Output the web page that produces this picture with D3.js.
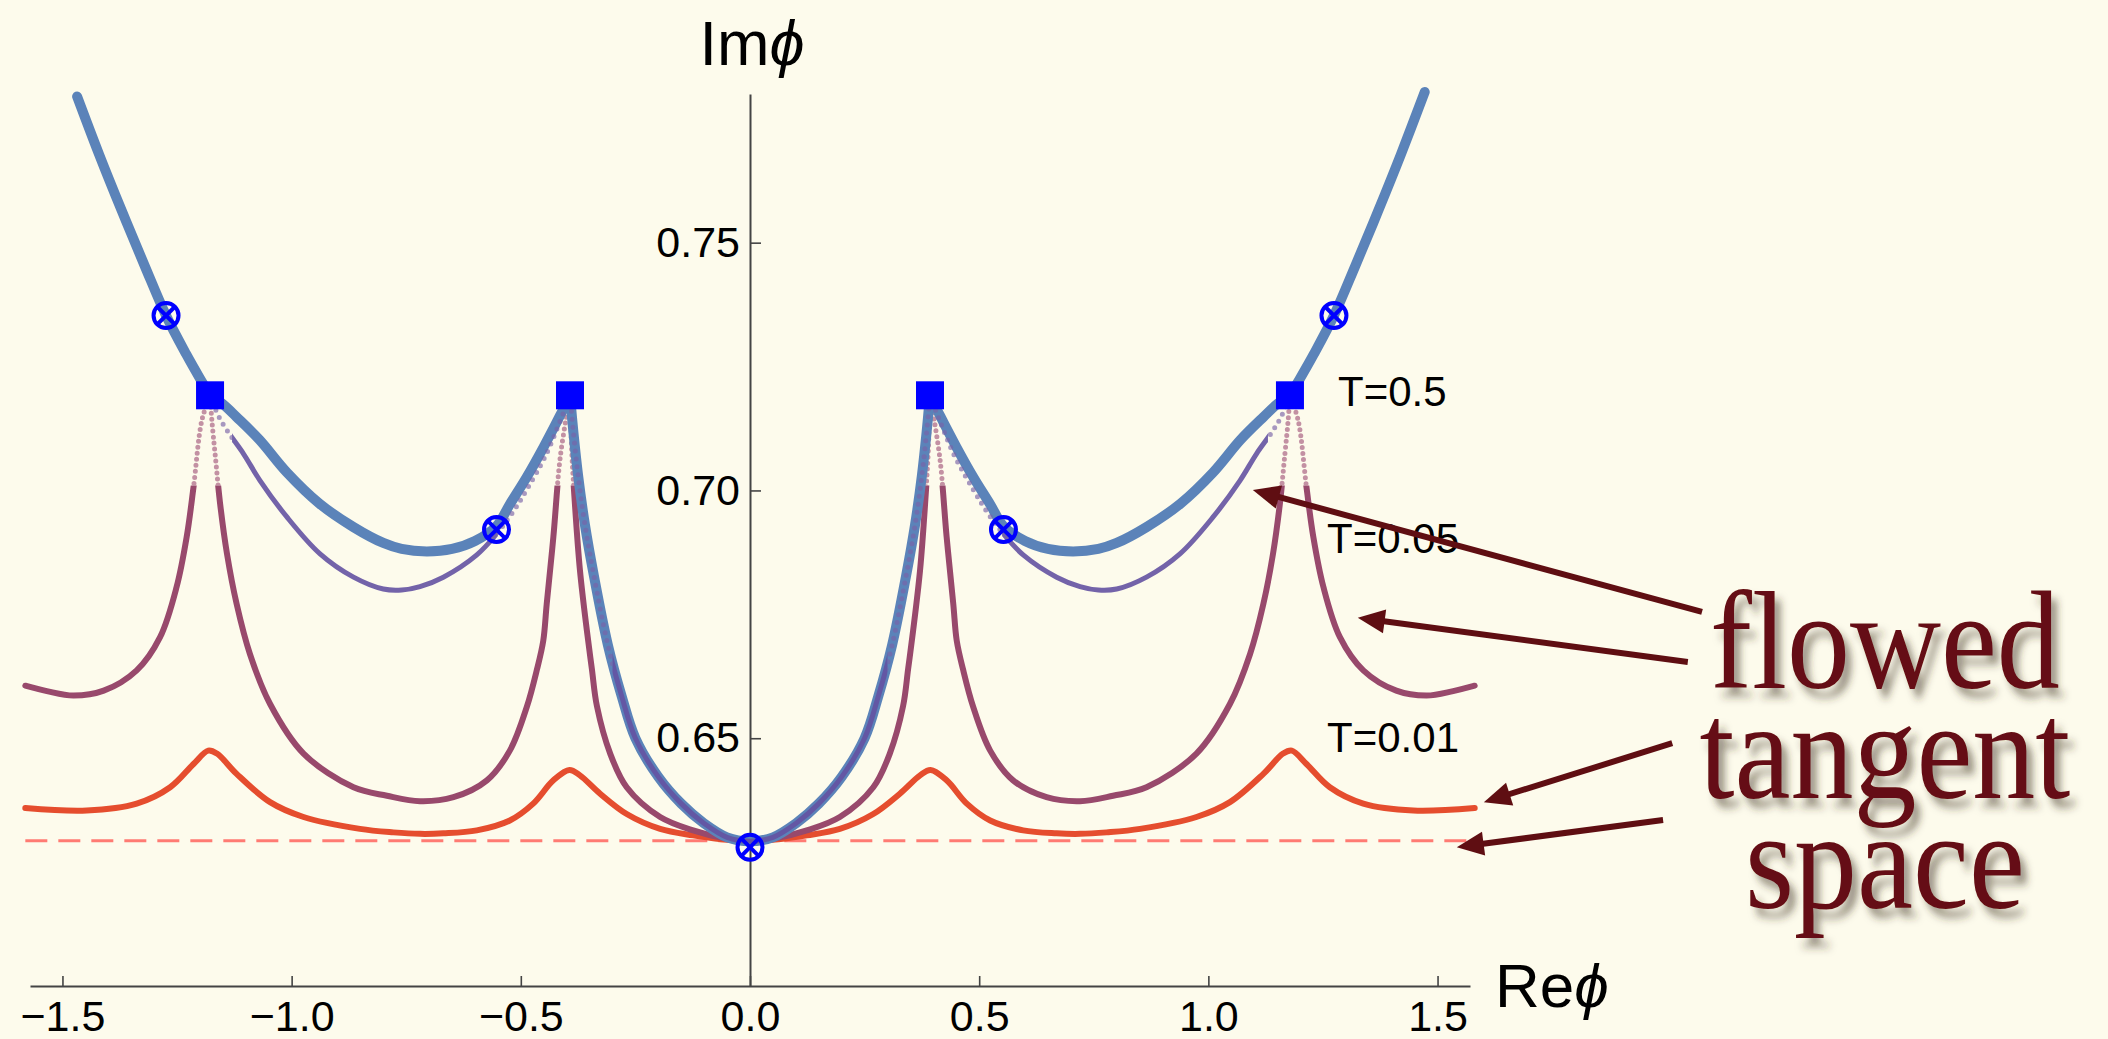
<!doctype html>
<html lang="en">
<head>
<meta charset="UTF-8" />
<title>Flowed tangent space</title>
<script src="https://d3js.org/d3.v7.min.js"></script>
<style>
  html, body { margin: 0; padding: 0; background: #fdfbec; }
  svg { display: block; }
  .axis text { font-family: "Liberation Sans", Arial, sans-serif; fill: #000; }
  .axis .domain, .axis line { stroke: #444; }
</style>
</head>
<body>
<svg id="chart"></svg>
<script>
// flow curves, each point is [Re phi, Im phi]
const flowT05 = [
  [-1.468, 0.7795], [-1.420, 0.7678], [-1.370, 0.7563], [-1.320, 0.7452], [-1.274, 0.7353],
  [-1.230, 0.7275], [-1.200, 0.7226], [-1.178, 0.7192],
  [-1.150, 0.7174], [-1.120, 0.7148], [-1.070, 0.7102], [-1.010, 0.7036], [-0.940, 0.6974],
  [-0.865, 0.6926], [-0.800, 0.6894], [-0.760, 0.6882], [-0.705, 0.6877], [-0.650, 0.6882],
  [-0.600, 0.6898], [-0.553, 0.6928], [-0.524, 0.6972], [-0.487, 0.7027], [-0.450, 0.7088],
  [-0.415, 0.7150], [-0.3927, 0.7192],
  [-0.385, 0.7115], [-0.375, 0.7030], [-0.360, 0.6930], [-0.340, 0.6825], [-0.310, 0.6688],
  [-0.280, 0.6585], [-0.250, 0.6500], [-0.200, 0.6422], [-0.150, 0.6368], [-0.100, 0.6328],
  [-0.050, 0.6300], [0.000, 0.6292],
  [0.050, 0.6300], [0.100, 0.6328], [0.150, 0.6368], [0.200, 0.6422], [0.250, 0.6500],
  [0.280, 0.6585], [0.310, 0.6688], [0.340, 0.6825], [0.360, 0.6930], [0.375, 0.7030],
  [0.385, 0.7115], [0.3927, 0.7192],
  [0.415, 0.7150], [0.450, 0.7088], [0.487, 0.7027], [0.524, 0.6972], [0.553, 0.6928],
  [0.600, 0.6898], [0.650, 0.6882], [0.705, 0.6877], [0.760, 0.6882], [0.800, 0.6894],
  [0.865, 0.6926], [0.940, 0.6974], [1.010, 0.7036], [1.070, 0.7102], [1.120, 0.7148],
  [1.150, 0.7174], [1.178, 0.7192],
  [1.200, 0.7226], [1.230, 0.7275], [1.274, 0.7353], [1.320, 0.7452], [1.370, 0.7563],
  [1.420, 0.7678], [1.472, 0.7804]
];

const flowMid = [
  [-1.178, 0.7192], [-1.160, 0.7151], [-1.141, 0.7121], [-1.105, 0.7074], [-1.069, 0.7020],
  [-1.010, 0.6946], [-0.938, 0.6872], [-0.865, 0.6825], [-0.800, 0.6801], [-0.760, 0.6799],
  [-0.720, 0.6806], [-0.669, 0.6825], [-0.596, 0.6870], [-0.553, 0.6912], [-0.516, 0.6958],
  [-0.487, 0.7002], [-0.444, 0.7074], [-0.3927, 0.7192],
  [-0.385, 0.7115], [-0.375, 0.7030], [-0.360, 0.6930], [-0.340, 0.6825], [-0.310, 0.6688],
  [-0.280, 0.6585], [-0.250, 0.6500], [-0.200, 0.6422], [-0.150, 0.6368], [-0.100, 0.6328],
  [-0.050, 0.6300], [0.000, 0.6292],
  [0.050, 0.6300], [0.100, 0.6328], [0.150, 0.6368], [0.200, 0.6422], [0.250, 0.6500],
  [0.280, 0.6585], [0.310, 0.6688], [0.340, 0.6825], [0.360, 0.6930], [0.375, 0.7030],
  [0.385, 0.7115], [0.3927, 0.7192],
  [0.444, 0.7074], [0.487, 0.7002], [0.516, 0.6958], [0.553, 0.6912], [0.596, 0.6870],
  [0.669, 0.6825], [0.720, 0.6806], [0.760, 0.6799], [0.800, 0.6801], [0.865, 0.6825],
  [0.938, 0.6872], [1.010, 0.6946], [1.069, 0.7020], [1.105, 0.7074], [1.141, 0.7121],
  [1.160, 0.7151], [1.178, 0.7192]
];

const flowT005 = [
  [-1.581, 0.6606], [-1.534, 0.6595], [-1.476, 0.6586], [-1.410, 0.6596], [-1.338, 0.6637],
  [-1.287, 0.6704], [-1.251, 0.6805], [-1.229, 0.6906], [-1.214, 0.7007], [-1.196, 0.7141],
  [-1.178, 0.7192],
  [-1.174, 0.7141], [-1.167, 0.7074], [-1.156, 0.6973], [-1.141, 0.6872], [-1.120, 0.6771],
  [-1.091, 0.6670], [-1.047, 0.6569], [-0.974, 0.6469], [-0.865, 0.6401], [-0.792, 0.6384],
  [-0.720, 0.6373], [-0.647, 0.6381], [-0.574, 0.6415], [-0.524, 0.6475], [-0.487, 0.6563],
  [-0.465, 0.6638], [-0.451, 0.6697], [-0.4435, 0.6771], [-0.429, 0.6906], [-0.414, 0.7067],
  [-0.3927, 0.7192],
  [-0.389, 0.7081], [-0.382, 0.6973], [-0.371, 0.6839], [-0.356, 0.6718], [-0.345, 0.6640],
  [-0.334, 0.6565], [-0.305, 0.6469], [-0.269, 0.6401], [-0.196, 0.6341], [-0.124, 0.6314],
  [-0.051, 0.6297], [0.000, 0.6292],
  [0.051, 0.6297], [0.124, 0.6314], [0.196, 0.6341], [0.269, 0.6401], [0.305, 0.6469],
  [0.334, 0.6565], [0.345, 0.6640], [0.356, 0.6718], [0.371, 0.6839], [0.382, 0.6973],
  [0.389, 0.7081], [0.3927, 0.7192],
  [0.414, 0.7067], [0.429, 0.6906], [0.4435, 0.6771], [0.451, 0.6697], [0.465, 0.6638],
  [0.487, 0.6563], [0.524, 0.6475], [0.574, 0.6415], [0.647, 0.6381], [0.720, 0.6373],
  [0.792, 0.6384], [0.865, 0.6401], [0.974, 0.6469], [1.047, 0.6569], [1.091, 0.6670],
  [1.120, 0.6771], [1.141, 0.6872], [1.156, 0.6973], [1.167, 0.7074], [1.174, 0.7141],
  [1.178, 0.7192],
  [1.196, 0.7141], [1.214, 0.7007], [1.229, 0.6906], [1.251, 0.6805], [1.287, 0.6704],
  [1.338, 0.6637], [1.410, 0.6596], [1.476, 0.6586], [1.534, 0.6595], [1.581, 0.6606]
];

const flowT001 = [
  [-1.581, 0.6359], [-1.447, 0.6354], [-1.338, 0.6368], [-1.265, 0.6401], [-1.214, 0.6448],
  [-1.182, 0.6475], [-1.163, 0.6469], [-1.120, 0.6428], [-1.047, 0.6371], [-0.974, 0.6341],
  [-0.851, 0.6317], [-0.778, 0.6310], [-0.720, 0.6307], [-0.669, 0.6308], [-0.596, 0.6314],
  [-0.524, 0.6334], [-0.473, 0.6368], [-0.429, 0.6415], [-0.394, 0.6436], [-0.371, 0.6425],
  [-0.327, 0.6388], [-0.269, 0.6347], [-0.196, 0.6317], [-0.124, 0.6304], [-0.062, 0.6296],
  [0.000, 0.6292],
  [0.062, 0.6296], [0.124, 0.6304], [0.196, 0.6317], [0.269, 0.6347], [0.327, 0.6388],
  [0.371, 0.6425], [0.394, 0.6436], [0.429, 0.6415], [0.473, 0.6368], [0.524, 0.6334],
  [0.596, 0.6314], [0.669, 0.6308], [0.720, 0.6307], [0.778, 0.6310], [0.851, 0.6317],
  [0.974, 0.6341], [1.047, 0.6371], [1.120, 0.6428], [1.163, 0.6469], [1.182, 0.6475],
  [1.214, 0.6448], [1.265, 0.6401], [1.338, 0.6368], [1.447, 0.6354], [1.581, 0.6359]
];

const tangentIm = 0.6293;
const tangentRe = [-1.581, 1.581];

// critical points on the flowed manifolds
const saddles = [[-1.178, 0.7192], [-0.3927, 0.7192], [0.3927, 0.7192], [1.178, 0.7192]];
const crossings = [[-1.274, 0.7353], [-0.553, 0.6921], [0, 0.628], [0.553, 0.6921], [1.274, 0.7353]];
const cuspRe = [-1.178, -0.3927, 0.3927, 1.178];

const xMajor = [-1.5, -1.0, -0.5, 0.0, 0.5, 1.0, 1.5];
const yMajor = [0.65, 0.70, 0.75];

const curveLabels = [
  { text: "T=0.5", re: 1.283, im: 0.7170 },
  { text: "T=0.05", re: 1.259, im: 0.6874 },
  { text: "T=0.01", re: 1.259, im: 0.6472 }
];

// annotation arrows: [tail, head] in plot units
const arrows = [
  [[2.077, 0.6755], [1.097, 0.7001]],
  [[2.046, 0.6654], [1.326, 0.6743]],
  [[2.012, 0.6490], [1.601, 0.6371]],
  [[1.992, 0.6335], [1.542, 0.6280]]
];

const noteLines = ["flowed", "tangent", "space"];
const noteAnchor = [2.476, 0.6601];

const width = 2108;
const height = 1039;

const svg = d3.select("#chart").attr("width", width).attr("height", height);
svg.append("rect").attr("width", width).attr("height", height).attr("fill", "#fdfbec");

const x = d3.scaleLinear().domain([-Math.PI / 2, Math.PI / 2]).range([30, 1470]);
const y = d3.scaleLinear().domain([0.60, 0.78]).range([986, 94]);

const defs = svg.append("defs");

function addClip(id, spans, imLo, imHi) {
  const c = defs.append("clipPath").attr("id", id);
  spans.forEach(([a, b]) => {
    c.append("rect")
      .attr("x", x(a)).attr("y", y(imHi))
      .attr("width", x(b) - x(a)).attr("height", y(imLo) - y(imHi));
  });
}

// mauve curve turns into sparse dots near the cusps
addClip("t005-solid", [[-2, 2]], 0.55, 0.701);
addClip("t005-dots", [[-2, 2]], 0.701, 0.80);
// mid curve: solid through the valleys and the centre
addClip("mid-solid", [[-1.13, -0.55], [-0.30, 0.30], [0.55, 1.13]], 0.55, 0.80);
addClip("mid-dots", [[-1.3, -1.13], [-0.55, -0.30], [0.30, 0.55], [1.13, 1.3]], 0.55, 0.80);

const shadow = defs.append("filter").attr("id", "shadow")
  .attr("x", "-10%").attr("y", "-20%").attr("width", "130%").attr("height", "160%");
shadow.append("feDropShadow")
  .attr("dx", 7).attr("dy", 9).attr("stdDeviation", 4)
  .attr("flood-color", "#3b3022").attr("flood-opacity", 0.5);

// axes
const xAxisG = svg.append("g").attr("class", "axis").attr("transform", `translate(0,${y(0.60)})`);
xAxisG.call(d3.axisBottom(x).tickValues(d3.range(-15, 16).map(i => i / 10).filter(v => Math.abs(v * 2 - Math.round(v * 2)) > 1e-6))
  .tickSize(-6).tickSizeOuter(0).tickFormat(""));
xAxisG.call(d3.axisBottom(x).tickValues(xMajor).tickSize(-10).tickSizeOuter(0).tickPadding(14)
  .tickFormat(d3.format(".1f")));

const yAxisG = svg.append("g").attr("class", "axis").attr("transform", `translate(${x(0)},0)`);
yAxisG.call(d3.axisLeft(y).tickValues(d3.range(61, 79).map(i => i / 100).filter(v => !yMajor.some(m => Math.abs(m - v) < 1e-6)))
  .tickSize(-6).tickSizeOuter(0).tickFormat(""));
yAxisG.call(d3.axisLeft(y).tickValues(yMajor).tickSize(-11).tickSizeOuter(0).tickPadding(10)
  .tickFormat(d3.format(".2f")));

svg.selectAll(".axis text").attr("font-size", 43).attr("font-family", null);
svg.selectAll(".axis .domain").attr("stroke-width", 2);
svg.selectAll(".axis line").attr("stroke-width", 1.6);

svg.append("text")
  .attr("x", x(0) + 2).attr("y", 65)
  .attr("text-anchor", "middle")
  .attr("font-family", "'Liberation Sans', Arial, sans-serif")
  .attr("font-size", 63)
  .call(t => {
    t.append("tspan").text("Im");
    t.append("tspan").attr("font-style", "italic").text("\u03D5");
  });

svg.append("text")
  .attr("x", x.range()[1] + 25).attr("y", y(0.60) + 21)
  .attr("font-family", "'Liberation Sans', Arial, sans-serif")
  .attr("font-size", 62)
  .call(t => {
    t.append("tspan").text("Re");
    t.append("tspan").attr("font-style", "italic").text("\u03D5");
  });

// curves
const line = d3.line()
  .x(d => x(d[0]))
  .y(d => y(d[1]))
  .curve(d3.curveCatmullRom.alpha(0.5));

// break a curve at the saddle cusps so the corners stay sharp
function splitAtCusps(pts) {
  const out = [];
  let cur = [];
  pts.forEach(p => {
    cur.push(p);
    if (cuspRe.includes(p[0]) && cur.length > 1) {
      out.push(cur);
      cur = [p];
    }
  });
  if (cur.length > 1) out.push(cur);
  return out;
}

function drawFlow(pts, opts) {
  const g = svg.append("g");
  if (opts.clip) g.attr("clip-path", `url(#${opts.clip})`);
  const segs = opts.cusps ? splitAtCusps(pts) : [pts];
  segs.forEach(seg => {
    g.append("path")
      .attr("d", line(seg))
      .attr("fill", "none")
      .attr("stroke", opts.color)
      .attr("stroke-width", opts.width)
      .attr("stroke-linecap", "round")
      .attr("stroke-linejoin", "round")
      .attr("stroke-dasharray", opts.dash || null)
      .attr("opacity", opts.opacity == null ? 1 : opts.opacity);
  });
}

// tangent space
svg.append("line")
  .attr("x1", x(tangentRe[0])).attr("x2", x(tangentRe[1]))
  .attr("y1", y(tangentIm)).attr("y2", y(tangentIm))
  .attr("stroke", "#ff7b73")
  .attr("stroke-width", 3)
  .attr("stroke-dasharray", "22 11");

drawFlow(flowT001, { color: "#e54d2e", width: 6 });
drawFlow(flowT005, { color: "#98496c", width: 6, cusps: true, clip: "t005-solid" });
drawFlow(flowT005, { color: "#a5587c", width: 5, cusps: true, clip: "t005-dots", dash: "0 6", opacity: 0.65 });
drawFlow(flowT05, { color: "#5b83b9", width: 10, cusps: true });
drawFlow(flowMid, { color: "#6452a2", width: 5, cusps: true, clip: "mid-solid", opacity: 0.9 });
drawFlow(flowMid, { color: "#7a62a8", width: 5, cusps: true, clip: "mid-dots", dash: "0 8", opacity: 0.65 });

// saddle points and crossings
svg.append("g").selectAll("rect")
  .data(saddles)
  .join("rect")
  .attr("x", d => x(d[0]) - 14)
  .attr("y", d => y(d[1]) - 14)
  .attr("width", 28).attr("height", 28)
  .attr("fill", "#0000ff");

const cross = svg.append("g").selectAll("g")
  .data(crossings)
  .join("g")
  .attr("transform", d => `translate(${x(d[0])},${y(d[1])})`);
cross.append("circle").attr("r", 12.5).attr("fill", "none").attr("stroke", "#0000ff").attr("stroke-width", 4);
cross.append("path").attr("d", "M-8.8,-8.8L8.8,8.8M-8.8,8.8L8.8,-8.8")
  .attr("stroke", "#0000ff").attr("stroke-width", 4);

// T labels
svg.append("g").selectAll("text")
  .data(curveLabels)
  .join("text")
  .attr("x", d => x(d.re))
  .attr("y", d => y(d.im))
  .attr("font-family", "'Liberation Sans', Arial, sans-serif")
  .attr("font-size", 42)
  .attr("fill", "#000")
  .text(d => d.text);

// arrows
const arrowColor = "#5f0e12";
const headLen = 27, headHalf = 12;
arrows.forEach(([from, to]) => {
  const x0 = x(from[0]), y0 = y(from[1]);
  const x1 = x(to[0]), y1 = y(to[1]);
  const len = Math.hypot(x1 - x0, y1 - y0);
  const ux = (x1 - x0) / len, uy = (y1 - y0) / len;
  const bx = x1 - ux * headLen, by = y1 - uy * headLen;
  svg.append("line")
    .attr("x1", x0).attr("y1", y0)
    .attr("x2", x1 - ux * headLen * 0.7).attr("y2", y1 - uy * headLen * 0.7)
    .attr("stroke", arrowColor).attr("stroke-width", 6);
  svg.append("path")
    .attr("d", `M${x1},${y1}L${bx - uy * headHalf},${by + ux * headHalf}L${bx + uy * headHalf},${by - ux * headHalf}Z`)
    .attr("fill", arrowColor);
});

// side note, one block of three lines in a tall narrow serif
const note = svg.append("text")
  .attr("transform", `translate(${x(noteAnchor[0])},${y(noteAnchor[1])}) scale(0.9,1)`)
  .attr("text-anchor", "middle")
  .attr("font-family", "'Liberation Serif', 'Times New Roman', serif")
  .attr("font-size", 140)
  .attr("fill", "#650f12")
  .attr("filter", "url(#shadow)");
note.selectAll("tspan")
  .data(noteLines)
  .join("tspan")
  .attr("x", 0)
  .attr("dy", (d, i) => i === 0 ? 0 : 110)
  .text(d => d);
</script>
</body>
</html>
